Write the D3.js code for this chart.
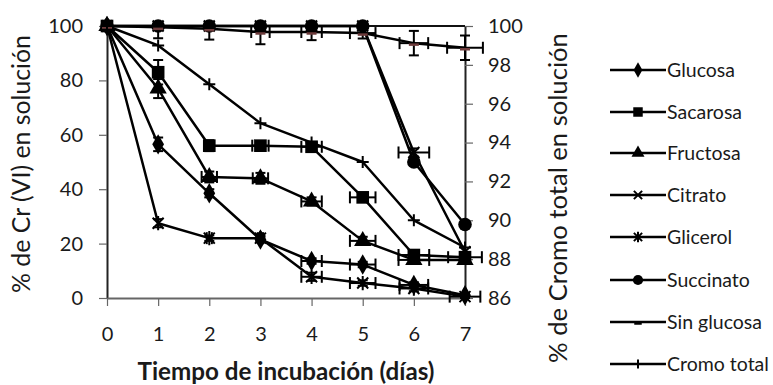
<!DOCTYPE html>
<html><head><meta charset="utf-8">
<script src="https://cdn.jsdelivr.net/npm/d3@7"></script>
<style>
body{margin:0;background:#fff}
svg{display:block}
text{font-family:Lato,'Open Sans',sans-serif;fill:#1a1a1a}
</style>
</head><body>
<svg id="c" width="773" height="385"></svg>
<script>
// ---- data ----
const days = [0,1,2,3,4,5,6,7];
const leftTicks = [0,20,40,60,80,100];
const rightTicks = [86,88,90,92,94,96,98,100];

const glucosa     = [100,56.5,38.5,21.5,13.6,12.3,4.8,1];
const sacarosa    = [100,83,56,56,55.6,37,15.8,15];
const fructosa    = [100,77,44.5,44,35.5,21,14,14];
const citrato     = [100,100,100,100,100,100,53.5,17];
const glicerol    = [100,27.5,22,22,7.8,5.5,3.5,0.5];
const succinato   = [100,100,100,100,100,100,50,27];
const sinGlucosa  = [100,99.5,99,97.8,97.8,97.4,93.7,92];
const cromoTotal  = [100,99,97,95,94,93,90,88.6]; // right axis

const glucosaYErr    = [0,2.5,1.5,1,1,1,1,0.5];
const glucosaXErr    = [0,0,0,0,0.2,0.25,0.28,0];
const sacarosaYErr   = [0,4.5,2,1.5,1.5,1.5,1.5,1];
const sacarosaXErr   = [0,0,0,0.16,0.2,0.25,0.3,0.33];
const fructosaYErr   = [0,3.5,2,2,1.5,1.5,1,1];
const fructosaXErr   = [0,0,0.15,0.15,0.2,0.25,0.3,0];
const citratoYErr    = [0,0,0,0,0,0,1.5,0];
const citratoXErr    = [0,0,0,0,0,0,0.3,0];
const glicerolYErr   = [0,1.5,1,1,1.5,1,1,0.5];
const glicerolXErr   = [0,0,0.05,0.05,0.2,0.25,0.28,0.3];
const succinatoYErr  = [0,0,0,0,0,0,0,0];
const succinatoXErr  = [0,0,0,0,0,0,0,0];
const sinGlucosaYErr = [0,4,4,4.5,3,2,4.5,4.5];
const sinGlucosaXErr = [0,0,0,0.18,0.2,0.25,0.28,0.35];
const cromoTotalYErr = [0,0,0,0,0,0,0,0];
const cromoTotalXErr = [0,0,0,0,0,0,0,0];

const seriesNames = ["Glucosa","Sacarosa","Fructosa","Citrato","Glicerol","Succinato","Sin glucosa","Cromo total"];

const series = [
  {name:"Glucosa", v:glucosa, ye:glucosaYErr, xe:glucosaXErr, m:"diamond", ax:"L"},
  {name:"Sacarosa", v:sacarosa, ye:sacarosaYErr, xe:sacarosaXErr, m:"square", ax:"L"},
  {name:"Fructosa", v:fructosa, ye:fructosaYErr, xe:fructosaXErr, m:"triangle", ax:"L"},
  {name:"Citrato", v:citrato, ye:citratoYErr, xe:citratoXErr, m:"x", ax:"L"},
  {name:"Glicerol", v:glicerol, ye:glicerolYErr, xe:glicerolXErr, m:"star", ax:"L"},
  {name:"Succinato", v:succinato, ye:succinatoYErr, xe:succinatoXErr, m:"circle", ax:"L"},
  {name:"Sin glucosa", v:sinGlucosa, ye:sinGlucosaYErr, xe:sinGlucosaXErr, m:"dash", ax:"L"},
  {name:"Cromo total", v:cromoTotal, ye:cromoTotalYErr, xe:cromoTotalXErr, m:"plus", ax:"R"}
];

// ---- layout ----
const svg = d3.select("#c");
const x  = d3.scaleLinear().domain([0,7]).range([107,465]);
const yL = d3.scaleLinear().domain([0,100]).range([298,26]);
const yR = d3.scaleLinear().domain([86,100]).range([298,26]);

function fit(t, w){
  const l = t.node().getComputedTextLength();
  const fs = parseFloat(t.style("font-size"));
  t.style("font-size", (fs*w/l)+"px");
}

// plot top border
svg.append("line").attr("x1",x(0)).attr("x2",x(7)).attr("y1",yL(100)).attr("y2",yL(100))
  .attr("stroke","#111").attr("stroke-width",2);

// axes
const axL = svg.append("g").attr("transform",`translate(${x(0)},0)`)
  .call(d3.axisLeft(yL).tickValues(leftTicks).tickSize(8).tickPadding(16).tickSizeOuter(0));
const axR = svg.append("g").attr("transform",`translate(${x(7)},0)`)
  .call(d3.axisRight(yR).tickValues(rightTicks).tickSize(8).tickPadding(15).tickSizeOuter(0));
const axB = svg.append("g").attr("transform",`translate(0,${yL(0)})`)
  .call(d3.axisBottom(x).tickValues(days).tickFormat(d3.format("d")).tickSize(8).tickPadding(21).tickSizeOuter(0));
[axL,axR,axB].forEach(a=>{
  a.select(".domain").attr("stroke","#222").attr("stroke-width",2);
  a.selectAll(".tick line").attr("stroke","#666").attr("stroke-width",1.2);
  a.selectAll("text").style("font-family","Lato,'Open Sans',sans-serif").style("font-size","20px").attr("fill","#1a1a1a");
});
axB.select(".domain").attr("stroke","#666");

// lines
const lineL = d3.line().x((d,i)=>x(days[i])).y(d=>yL(d));
const lineR = d3.line().x((d,i)=>x(days[i])).y(d=>yR(d));
series.forEach(s=>{
  svg.append("path").attr("d",(s.ax==="L"?lineL:lineR)(s.v))
    .attr("fill","none").attr("stroke","#000").attr("stroke-width",2.5).attr("stroke-linejoin","round");
});

// error bars
series.forEach(s=>{
  const y = s.ax==="L"?yL:yR;
  const top = 100, bot = s.ax==="L"?0:86;
  const g = svg.append("g").attr("stroke","#000").attr("stroke-width",2);
  s.v.forEach((v,i)=>{
    const e = s.ye[i];
    if(e>0){
      const hi = Math.min(top, v+e), lo = Math.max(bot, v-e);
      g.append("line").attr("x1",x(days[i])).attr("x2",x(days[i])).attr("y1",y(lo)).attr("y2",y(hi));
      if(v+e<=top) g.append("line").attr("x1",x(days[i])-5).attr("x2",x(days[i])+5).attr("y1",y(v+e)).attr("y2",y(v+e));
      if(v-e>=bot) g.append("line").attr("x1",x(days[i])-5).attr("x2",x(days[i])+5).attr("y1",y(v-e)).attr("y2",y(v-e));
    }
    const xe = s.xe[i];
    if(xe>0){
      const cy = y(v);
      g.append("line").attr("x1",x(days[i]-xe)).attr("x2",x(days[i]+xe)).attr("y1",cy).attr("y2",cy);
      [days[i]-xe, days[i]+xe].forEach(xx=>{
        g.append("line").attr("x1",x(xx)).attr("x2",x(xx)).attr("y1",cy-6).attr("y2",cy+6);
      });
    }
  });
});

// markers
function marker(g, type, k, legend){
  switch(type){
    case "diamond": g.append("path").attr("d",d3.symbol(d3.symbolDiamond,120*k*k)()).attr("fill","#000"); break;
    case "square": g.append("path").attr("d",d3.symbol(d3.symbolSquare,160*k*k)()).attr("fill","#000"); break;
    case "triangle": g.append("path").attr("d",d3.symbol(d3.symbolTriangle,130*k*k)()).attr("fill","#000"); break;
    case "circle": g.append("path").attr("d",d3.symbol(d3.symbolCircle,145*k*k)()).attr("fill","#000"); break;
    case "x": { const r=5.5*k; g.append("path").attr("d",`M${-r},${-r}L${r},${r}M${-r},${r}L${r},${-r}`).attr("stroke","#000").attr("stroke-width",2); break; }
    case "star": { const r=5.5*k; g.append("path").attr("d",`M${-r},${-r}L${r},${r}M${-r},${r}L${r},${-r}M0,${-r*1.3}L0,${r*1.3}`).attr("stroke","#000").attr("stroke-width",2); break; }
    case "plus": { const r=6*k; g.append("path").attr("d",`M${-r},0L${r},0M0,${-r}L0,${r}`).attr("stroke","#000").attr("stroke-width",2); break; }
    case "dash": { const r=5*k; g.append("path").attr("d",`M${-r},1.5L${r},1.5`).attr("stroke",legend?"#000":"#6e3c3c").attr("stroke-width",2.5); break; }
  }
}
series.forEach(s=>{
  const y = s.ax==="L"?yL:yR;
  s.v.forEach((v,i)=>{
    const g = svg.append("g").attr("transform",`translate(${x(days[i])},${y(v)})`);
    marker(g, s.m, 1, false);
  });
});

// axis titles
const tx = svg.append("text").attr("x",286).attr("y",380).attr("text-anchor","middle")
  .style("font-size","21px").style("font-weight","bold").text("Tiempo de incubación (días)");
fit(tx, 297);
const tl = svg.append("text").attr("transform","translate(30,164) rotate(-90)").attr("text-anchor","middle")
  .style("font-size","21px").text("% de Cr (VI) en solución");
fit(tl, 258);
const tr = svg.append("text").attr("transform","translate(567,198) rotate(-90)").attr("text-anchor","middle")
  .style("font-size","21px").text("% de Cromo total en solución");
fit(tr, 330);

// legend
const legY = [70,112,153,195,237,280,322,364];
series.forEach((s,i)=>{
  const g = svg.append("g").attr("transform",`translate(0,${legY[i]})`);
  g.append("line").attr("x1",610).attr("x2",666).attr("y1",0).attr("y2",0).attr("stroke","#000").attr("stroke-width",2.5);
  const mg = g.append("g").attr("transform","translate(638,0)");
  marker(mg, s.m, 0.75, true);
  g.append("text").attr("x",667).attr("y",6.5).style("font-size","19.5px").text(seriesNames[i]);
});
</script>
</body></html>
